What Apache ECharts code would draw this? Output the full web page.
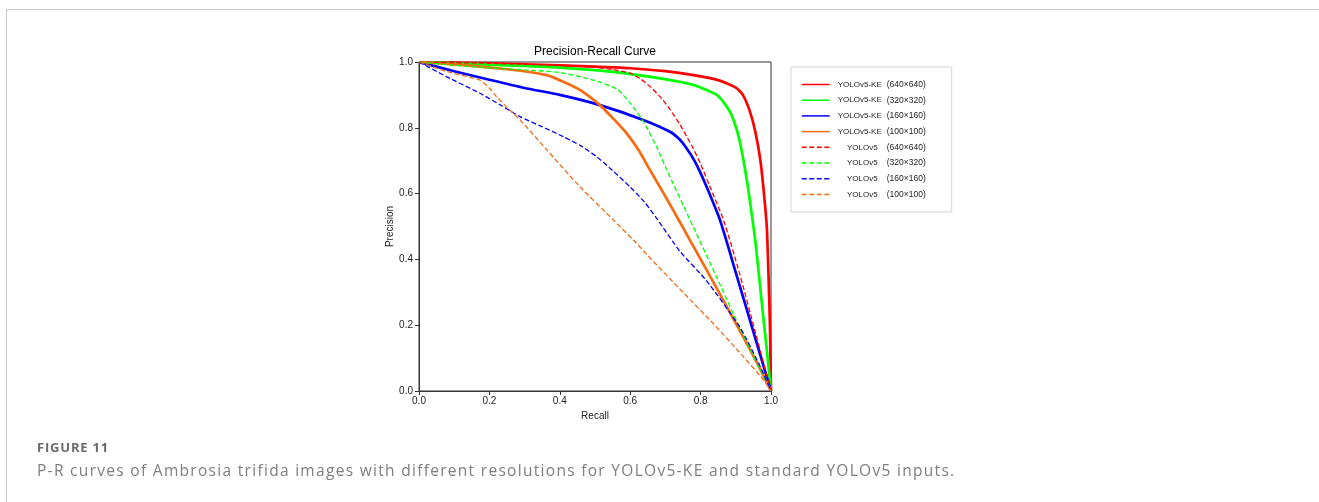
<!DOCTYPE html>
<html lang="en">
<head>
<meta charset="utf-8">
<title>P-R curves</title>
<script src="https://cdn.jsdelivr.net/npm/echarts@6/dist/echarts.min.js"></script>
<style>
  html, body { margin: 0; padding: 0; background: #fff; overflow: hidden; }
  #frame { position: absolute; left: 6px; top: 9px; width: 1320px; height: 500px;
           border-left: 1px solid #cbcbcb; border-top: 1px solid #cbcbcb; }
  #chart { position: absolute; left: 0; top: 0; width: 1319px; height: 502px; }
  .cap { position: absolute; left: 37px; white-space: nowrap; font-family: "Open Sans", sans-serif; line-height: 20px; }
  #figno { top: 437px; font-size: 13px; font-weight: bold; color: #6a6a6a; letter-spacing: 0.8px; }
  #figtxt { top: 460px; font-size: 15.5px; color: #7e7e7e; letter-spacing: 1.3px; }
</style>
</head>
<body>
<div id="frame"></div>
<div id="chart"></div>
<div class="cap" id="figno">FIGURE 11</div>
<div class="cap" id="figtxt">P-R curves of Ambrosia trifida images with different resolutions for YOLOv5-KE and standard YOLOv5 inputs.</div>
<script>
// tick labels for both axes
var tickLabels = ['0.0', '0.2', '0.4', '0.6', '0.8', '1.0'];

// series names (legend order)
var seriesNames = [
  'YOLOv5-KE (640×640)', 'YOLOv5-KE (320×320)', 'YOLOv5-KE (160×160)', 'YOLOv5-KE (100×100)',
  'YOLOv5 (640×640)', 'YOLOv5 (320×320)', 'YOLOv5 (160×160)', 'YOLOv5 (100×100)'
];

// [recall, precision]
var ke640 = [[0,1],[0.1,0.998],[0.3,0.993],[0.5,0.986],[0.6,0.981],[0.7,0.972],[0.78,0.96],[0.85,0.945],
  [0.9,0.922],[0.92,0.9],[0.94,0.85],[0.955,0.79],[0.97,0.7],[0.98,0.6],[0.988,0.5],[0.993,0.35],[0.997,0.2],[1,0]];
var ke320 = [[0,1],[0.1,0.996],[0.2,0.992],[0.4,0.983],[0.55,0.97],[0.685,0.95],[0.78,0.93],[0.846,0.9],
  [0.88,0.855],[0.895,0.82],[0.91,0.765],[0.922,0.7],[0.933,0.63],[0.945,0.54],[0.955,0.46],[0.967,0.34],
  [0.978,0.225],[0.99,0.105],[1,0]];
var ke160 = [[0,1],[0.1,0.972],[0.2,0.946],[0.3,0.921],[0.4,0.9],[0.514,0.869],[0.637,0.824],[0.713,0.788],
  [0.74,0.765],[0.76,0.738],[0.78,0.705],[0.798,0.667],[0.817,0.621],[0.855,0.52],[0.9,0.36],[0.95,0.18],[1,0]];
var ke100 = [[0,1],[0.1,0.993],[0.173,0.986],[0.25,0.978],[0.3,0.972],[0.363,0.96],[0.41,0.94],[0.457,0.915],
  [0.514,0.869],[0.55,0.83],[0.59,0.783],[0.625,0.73],[0.656,0.672],[0.69,0.61],[0.722,0.55],[0.77,0.458],
  [0.817,0.368],[0.87,0.265],[0.931,0.145],[0.97,0.065],[1,0]];
var v5_640 = [[0,1],[0.2,0.996],[0.4,0.99],[0.5,0.984],[0.55,0.977],[0.6,0.966],[0.63,0.948],[0.66,0.922],
  [0.69,0.888],[0.713,0.856],[0.74,0.812],[0.76,0.775],[0.78,0.735],[0.8,0.69],[0.825,0.625],[0.865,0.52],
  [0.91,0.36],[0.955,0.18],[1,0]];
var v5_320 = [[0,1],[0.1,0.99],[0.2,0.982],[0.3,0.976],[0.4,0.968],[0.495,0.945],[0.562,0.918],[0.6,0.875],
  [0.637,0.82],[0.675,0.742],[0.704,0.672],[0.77,0.52],[0.846,0.345],[0.912,0.19],[0.96,0.085],[1,0]];
var v5_160 = [[0,1],[0.079,0.955],[0.173,0.905],[0.23,0.87],[0.287,0.834],[0.35,0.803],[0.41,0.773],[0.46,0.745],
  [0.505,0.712],[0.55,0.67],[0.599,0.621],[0.64,0.575],[0.675,0.525],[0.741,0.425],[0.817,0.335],[0.912,0.193],
  [0.969,0.075],[1,0]];
var v5_100 = [[0,1],[0.079,0.971],[0.173,0.945],[0.2,0.92],[0.22,0.895],[0.25,0.862],[0.287,0.824],[0.363,0.733],
  [0.457,0.621],[0.552,0.52],[0.609,0.459],[0.647,0.415],[0.75,0.3],[0.836,0.205],[0.9,0.13],[0.978,0.035],[1,0]];

var allData = [ke640, ke320, ke160, ke100, v5_640, v5_320, v5_160, v5_100];
var colors = ['#ff0000', '#00ff00', '#0000ff', '#f76a0e', '#ff0000', '#00ff00', '#0000ff', '#ee6d1c'];

var myChart = echarts.init(document.getElementById('chart'));

var series = [];
for (var i = 0; i < allData.length; i++) {
  var dashed = i >= 4;
  series.push({
    name: seriesNames[i],
    type: 'line',
    data: allData[i],
    symbol: 'none',
    smooth: 0.2,
    color: colors[i],
    lineStyle: { width: dashed ? 1.3 : 2.7, type: dashed ? [5, 2.5] : 'solid', color: colors[i] },
    emphasis: { disabled: true }
  });
}

var axisText = { fontSize: 10, color: '#222', fontFamily: 'Liberation Sans' };

var option = {
  animation: false,
  grid: { left: 419, top: 62, width: 352, height: 329, show: true, borderColor: '#333', borderWidth: 1 },
  xAxis: {
    type: 'value', min: 0, max: 1, interval: 0.2,
    name: 'Recall', nameLocation: 'middle', nameGap: 17,
    nameTextStyle: axisText,
    axisLine: { lineStyle: { color: '#333' } },
    axisTick: { show: true, length: 4, lineStyle: { color: '#333' } },
    axisLabel: { margin: 5, formatter: function (v) { return tickLabels[Math.round(v * 5)]; }, ...axisText },
    splitLine: { show: false }
  },
  yAxis: {
    type: 'value', min: 0, max: 1, interval: 0.2,
    name: 'Precision', nameLocation: 'middle', nameGap: 21,
    nameTextStyle: axisText,
    axisLine: { show: true, lineStyle: { color: '#333' } },
    axisTick: { show: true, length: 4, lineStyle: { color: '#333' } },
    axisLabel: { margin: 6, formatter: function (v) { return tickLabels[Math.round(v * 5)]; }, ...axisText },
    splitLine: { show: false }
  },
  legend: {
    orient: 'vertical',
    left: 791, top: 67,
    data: seriesNames,
    itemWidth: 28, itemHeight: 8, itemGap: 6.7,
    padding: [13, 26, 13, 10],
    backgroundColor: '#fff',
    borderColor: '#d4d4d4', borderWidth: 1,
    lineStyle: { width: 1.5 },
    itemStyle: { color: 'rgba(0,0,0,0)', borderWidth: 0, opacity: 0 },
    selectedMode: false,
    formatter: function (name) {
      var p = name.split(' ');
      var tag = p[0] === 'YOLOv5' ? 'c' : 'm';
      return '{' + tag + '|' + p[0] + '}{r|' + p[1] + '}';
    },
    textStyle: {
      padding: [0, 0, 0, 3],
      fontSize: 8, color: '#222', fontFamily: 'Liberation Sans',
      rich: {
        m: { width: 49, align: 'left', fontSize: 8, fontFamily: 'Liberation Sans', color: '#222' },
        c: { width: 49, align: 'center', fontSize: 8, fontFamily: 'Liberation Sans', color: '#222' },
        r: { fontSize: 8.5, fontFamily: 'Liberation Sans', color: '#222' }
      }
    }
  },
  graphic: [
    { type: 'text', x: 595, y: 52, style: { text: 'Precision-Recall Curve', textAlign: 'center', textVerticalAlign: 'middle',
      align: 'center', verticalAlign: 'middle', fontSize: 12, fontFamily: 'Liberation Sans', fill: '#000' } }
  ],
  series: series
};

if (option && typeof option === 'object') {
  myChart.setOption(option, true);
}
</script>
</body>
</html>
